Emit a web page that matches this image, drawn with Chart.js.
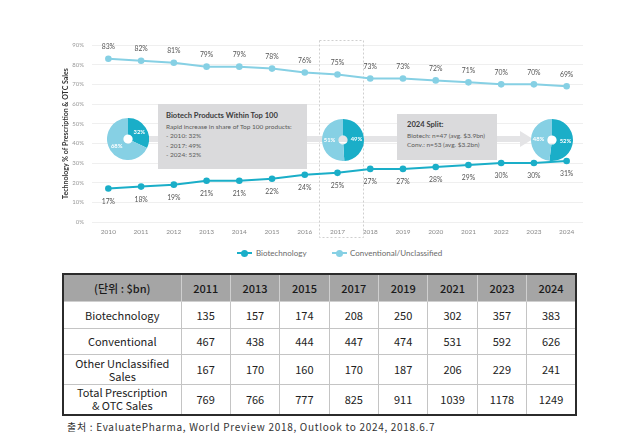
<!DOCTYPE html>
<html>
<head>
<meta charset="utf-8">
<script src="https://cdn.jsdelivr.net/npm/chart.js@4/dist/chart.umd.min.js"></script>
<style>
  body { margin:0; background:#fff; width:618px; height:437px; position:relative; overflow:hidden; font-family:Lato, "Open Sans", sans-serif; }
  #main { position:absolute; left:0; top:0; }
  .band { position:absolute; left:148px; top:136px; width:374px; height:6px; background:#e4e4e6; }
  .arrow { position:absolute; left:520px; top:131px; width:0; height:0; border-top:8px solid transparent; border-bottom:8px solid transparent; border-left:13px solid #e4e4e6; }
  .pie { position:absolute; width:42px; height:42px; }
  .note { position:absolute; background:#dadadc; color:#5a5a5a; font-size:6.5px; line-height:9.4px; box-sizing:border-box; }
  .note b { display:block; color:#3c3c3c; font-size:7.6px; line-height:11px; margin-bottom:1px; }
  .legend { position:absolute; top:248px; font-size:8px; color:#6a6a6a; line-height:10px; }
  .mk { position:absolute; top:4px; width:15px; height:2px; }
  .mk i { position:absolute; left:4px; top:-2.5px; width:7px; height:7px; border-radius:50%; }
  table { position:absolute; left:62px; top:273px; width:515px; border-collapse:collapse; border:2px solid #2b2b2b;
    font-family:"Noto Sans CJK KR", sans-serif; font-size:11px; color:#222; table-layout:fixed; }
  td, th { border:1px solid #c4c4c4; text-align:center; padding:0; line-height:13px; }
  th { background:#a5a5a5; font-weight:500; height:26px; border-color:#cfcfcf; color:#1a1a1a; }
  .src { position:absolute; left:67px; top:419px; font-family:"Noto Sans CJK KR", sans-serif; font-size:10px; color:#333; letter-spacing:0.7px; }
</style>
</head>
<body>
<canvas id="main" width="618" height="240"></canvas>
<div class="band"></div>
<div class="arrow"></div>
<canvas class="pie" id="pie0" width="42" height="42" style="left:107px;top:118px"></canvas>
<canvas class="pie" id="pie1" width="42" height="42" style="left:322px;top:119px"></canvas>
<canvas class="pie" id="pie2" width="42" height="42" style="left:531px;top:119px"></canvas>
<div class="note" style="left:158px;top:104px;width:149px;height:65px;padding:6px 0 0 8px">
  <b>Biotech Products Within Top 100</b>
  Rapid increase in share of Top 100 products:<br>- 2010: 32%<br>- 2017: 49%<br>- 2024: 52%
</div>
<div class="note" style="left:397px;top:114px;width:100px;height:46px;padding:5px 0 0 10px">
  <b>2024 Split:</b>
  Biotech: n=47 (avg. $3.9bn)<br>Conv.: n=53 (avg. $3.2bn)
</div>
<div class="legend" style="left:237px"><span class="mk" style="left:0;background:#1aaec8"><i style="background:#1aaec8"></i></span><span style="margin-left:19px">Biotechnology</span></div>
<div class="legend" style="left:332px"><span class="mk" style="left:0;background:#86d0e4"><i style="background:#86d0e4"></i></span><span style="margin-left:18px">Conventional/Unclassified</span></div>
<table id="tbl"></table>
<div class="src">출처 : EvaluatePharma, World Preview 2018, Outlook to 2024, 2018.6.7</div>

<script>
var years = ['2010','2011','2012','2013','2014','2015','2016','2017','2018','2019','2020','2021','2022','2023','2024'];
var biotechShare = [17, 18, 19, 21, 21, 22, 24, 25, 27, 27, 28, 29, 30, 30, 31];
var conventionalShare = [83, 82, 81, 79, 79, 78, 76, 75, 73, 73, 72, 71, 70, 70, 69];
var highlightYear = '2017';

var pieBiotech = [32, 49, 52];
var pieConventional = [68, 51, 48];

var tableYears = ['2011','2013','2015','2017','2019','2021','2023','2024'];
var tableRows = ['Biotechnology', 'Conventional', 'Other Unclassified<br>Sales', 'Total Prescription<br>&amp; OTC Sales'];
var salesBiotech = [135, 157, 174, 208, 250, 302, 357, 383];
var salesConventional = [467, 438, 444, 447, 474, 531, 592, 626];
var salesOther = [167, 170, 160, 170, 187, 206, 229, 241];
var salesTotal = [769, 766, 777, 825, 911, 1039, 1178, 1249];

var DARK = '#1aaec8', LIGHT = '#86d0e4';

// % labels above / below the points
var valueLabels = {
  id: 'valueLabels',
  afterDatasetsDraw: function(chart) {
    var ctx = chart.ctx;
    ctx.save();
    ctx.font = '6.8px Lato';
    ctx.fillStyle = '#555';
    ctx.textAlign = 'center';
    ctx.textBaseline = 'middle';
    chart.data.datasets.forEach(function(ds, i) {
      var dy = ds.labelAbove ? -11.5 : 13;
      chart.getDatasetMeta(i).data.forEach(function(pt, j) {
        ctx.fillText(ds.data[j] + '%', pt.x, pt.y + dy);
      });
    });
    ctx.restore();
  }
};

// dotted frame round the highlighted year
var yearFrame = {
  id: 'yearFrame',
  beforeDatasetsDraw: function(chart) {
    var a = chart.chartArea, ctx = chart.ctx;
    var cx = chart.scales.x.getPixelForValue(years.indexOf(highlightYear)) + 3;
    ctx.save();
    ctx.strokeStyle = '#cfcfcf';
    ctx.lineWidth = 1;
    ctx.setLineDash([2, 2]);
    ctx.strokeRect(Math.round(cx - 22) + 0.5, a.top - 4.5, 44, a.bottom - a.top + 20);
    ctx.restore();
  }
};

new Chart(document.getElementById('main'), {
  type: 'line',
  data: {
    labels: years,
    datasets: [{
      label: 'Conventional/Unclassified',
      data: conventionalShare,
      labelAbove: true,
      borderColor: LIGHT, backgroundColor: LIGHT,
      borderWidth: 2, pointRadius: 3.3, pointBorderWidth: 0
    }, {
      label: 'Biotechnology',
      data: biotechShare,
      borderColor: DARK, backgroundColor: DARK,
      borderWidth: 2, pointRadius: 3.3, pointBorderWidth: 0
    }]
  },
  options: {
    responsive: false, animation: false,
    layout: { padding: { left: 58, right: 35, top: 45, bottom: 4 } },
    plugins: { legend: { display: false }, tooltip: { enabled: false } },
    scales: {
      x: {
        offset: true,
        grid: { display: false, drawTicks: false },
        border: { display: false },
        ticks: { color: '#8a8a8a', font: { family: 'Lato', size: 6.5 }, padding: 6, maxRotation: 0 },
        afterFit: function(s) { s.height = 14; }
      },
      y: {
        min: 0, max: 90,
        grid: { color: '#efefef', drawTicks: false },
        border: { display: false },
        ticks: { stepSize: 10, color: '#9a9a9a', font: { family: 'Lato', size: 6 }, padding: 8,
                 callback: function(v) { return v + '%'; } },
        title: { display: true, text: 'Technology % of Prescription & OTC Sales', color: '#333',
                 font: { family: 'Lato', size: 7, weight: 'bold' }, padding: { top: 4, bottom: 0 } },
        afterFit: function(s) { s.width = 34; }
      }
    }
  },
  plugins: [yearFrame, valueLabels]
});

var sliceLabels = {
  id: 'sliceLabels',
  afterDatasetsDraw: function(chart) {
    var ctx = chart.ctx, ds = chart.data.datasets[0];
    ctx.save();
    ctx.font = 'bold 5.8px Lato';
    ctx.fillStyle = '#fff';
    ctx.textAlign = 'center';
    ctx.textBaseline = 'middle';
    chart.getDatasetMeta(0).data.forEach(function(arc, i) {
      var mid = (arc.startAngle + arc.endAngle) / 2, r = arc.outerRadius * 0.64;
      ctx.fillText(ds.data[i] + '%', arc.x + Math.cos(mid) * r, arc.y + Math.sin(mid) * r);
    });
    ctx.restore();
  }
};

pieBiotech.forEach(function(b, i) {
  new Chart(document.getElementById('pie' + i), {
    type: 'doughnut',
    data: { labels: ['Biotech', 'Conventional'],
            datasets: [{ data: [b, pieConventional[i]], backgroundColor: [DARK, LIGHT], borderWidth: 0 }] },
    options: { responsive: false, animation: false, cutout: '22%',
               plugins: { legend: { display: false }, tooltip: { enabled: false } } },
    plugins: [sliceLabels]
  });
});

var rowsData = [salesBiotech, salesConventional, salesOther, salesTotal];
var rowH = [27, 26, 30, 30];
var html = '<colgroup><col style="width:118px">' + tableYears.map(function() { return '<col>'; }).join('') + '</colgroup>';
html += '<tr><th>(단위 : $bn)</th>' + tableYears.map(function(y) { return '<th>' + y + '</th>'; }).join('') + '</tr>';
rowsData.forEach(function(r, i) {
  html += '<tr style="height:' + rowH[i] + 'px"><td>' + tableRows[i] + '</td>' + r.map(function(v) { return '<td>' + v + '</td>'; }).join('') + '</tr>';
});
document.getElementById('tbl').innerHTML = html;
</script>
</body>
</html>
